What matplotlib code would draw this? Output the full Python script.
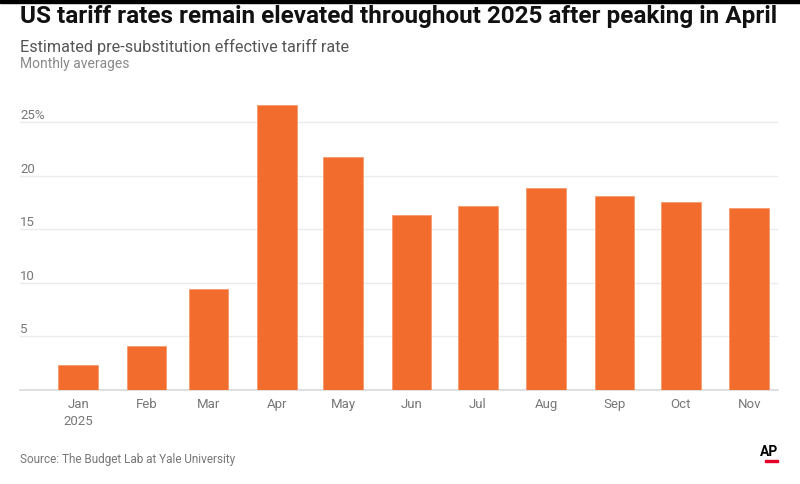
import datetime as dt
import matplotlib
matplotlib.use("Agg")
import matplotlib.pyplot as plt
import matplotlib.transforms as mtransforms

# monthly averages, estimated pre-substitution effective tariff rate (%)
months = ["2025-01-01", "2025-02-01", "2025-03-01", "2025-04-01", "2025-05-01", "2025-06-01",
          "2025-07-01", "2025-08-01", "2025-09-01", "2025-10-01", "2025-11-01"]
rates = [2.35, 4.1, 9.45, 26.6, 21.7, 16.3, 17.2, 18.8, 18.1, 17.55, 17.0]
month_labels = ["Jan\n2025", "Feb", "Mar", "Apr", "May", "Jun", "Jul", "Aug", "Sep", "Oct", "Nov"]
y_ticks = [5, 10, 15, 20, 25]
y_tick_labels = ["5", "10", "15", "20", "25%"]

BAR = "#F26D2D"
FONT = ["Roboto", "DejaVu Sans"]
plt.rcParams["font.family"] = FONT

dates = [dt.datetime.strptime(m, "%Y-%m-%d") for m in months]

W, H = 800, 484
fig = plt.figure(figsize=(W / 100, H / 100), dpi=100)
ax_left, ax_right = 20 / W, 778 / W
ax_bottom = 1 - 390 / H
ymax = 27.2
ax_top_px = 390 - ymax * 10.72
ax = fig.add_axes([ax_left, ax_bottom, ax_right - ax_left, (390 - ax_top_px) / H])

ax.bar(dates, rates, width=18, color=BAR, edgecolor="#F59A6E", linewidth=0.6, zorder=3)

ax.set_xlim(dt.datetime(2024, 12, 5, 16), dt.datetime(2025, 11, 14))
ax.set_ylim(0, ymax)

ax.set_yticks(y_ticks)
ax.set_yticklabels([])
ax.tick_params(axis="y", length=0)
ax.grid(axis="y", color="#EBEBEB", linewidth=1, zorder=0)
trans = mtransforms.blended_transform_factory(ax.transAxes, ax.transData)
for v, lab in zip(y_ticks, y_tick_labels):
    ax.text(0, v, lab, transform=trans, ha="left", va="bottom", fontsize=9.5,
            color="#777777")

ax.set_xticks(dates)
ax.set_xticklabels(month_labels, fontsize=9.5, color="#777777", linespacing=1.4, va="top")
ax.tick_params(axis="x", length=0, pad=6)

for s in ["top", "right", "left"]:
    ax.spines[s].set_visible(False)
ax.spines["bottom"].set_color("#D9D9D9")
ax.spines["bottom"].set_linewidth(1.2)

# header band
fig.patches.append(plt.Rectangle((0, 1 - 3 / H), 1, 3 / H, transform=fig.transFigure,
                                 color="black"))

fig.text(20 / W, 1 - 16 / H, "US tariff rates remain elevated throughout 2025 after peaking in April",
         fontsize=17.5, fontweight="bold", color="#111111", va="center", ha="left")
fig.text(20 / W, 1 - 47 / H, "Estimated pre-substitution effective tariff rate",
         fontsize=11.7, color="#555555", va="center", ha="left")
fig.text(20 / W, 1 - 64 / H, "Monthly averages",
         fontsize=10, color="#8A8A8A", va="center", ha="left")
fig.text(20 / W, 1 - 460 / H, "Source: The Budget Lab at Yale University",
         fontsize=8.5, color="#777777", va="center", ha="left")

# AP logo
fig.text(778 / W, 1 - 452 / H, "AP", fontsize=10, fontweight="bold", color="black",
         va="center", ha="right")
fig.patches.append(plt.Rectangle((765 / W, 1 - 462 / H), 13 / W, 2 / H,
                                 transform=fig.transFigure, color="#E4002B"))

fig.savefig("out.png", dpi=100)
